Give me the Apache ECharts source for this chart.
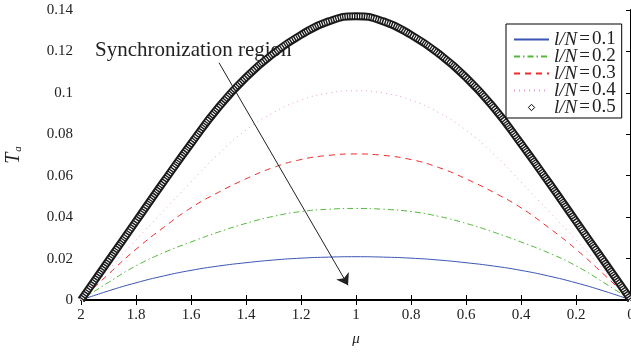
<!DOCTYPE html>
<html><head><meta charset="utf-8">
<script src="https://cdn.jsdelivr.net/npm/echarts@6/dist/echarts.min.js"></script>
<style>html,body{margin:0;padding:0;background:#fff}#c{width:631px;height:352px}</style>
</head><body><div id="c"></div>
<script>
// mu values (x axis, drawn reversed: 2 on the left, 0 on the right)
const mu = [0, 0.1, 0.2, 0.3, 0.4, 0.5, 0.6, 0.7, 0.8, 0.9, 1.0, 1.1, 1.2, 1.3, 1.4, 1.5, 1.6, 1.7, 1.8, 1.9, 2.0];
const ratioLabels = ['0.1', '0.2', '0.3', '0.4', '0.5'];
const Ta_01 = [0, 0.0044, 0.0083, 0.0116, 0.0143, 0.0164, 0.0180, 0.0193, 0.0202, 0.0207, 0.0209, 0.0207, 0.0202, 0.0193, 0.0180, 0.0164, 0.0143, 0.0116, 0.0083, 0.0044, 0];
const Ta_02 = [0, 0.0085, 0.0165, 0.0228, 0.0280, 0.0328, 0.0370, 0.0404, 0.0427, 0.0438, 0.0442, 0.0438, 0.0427, 0.0404, 0.0370, 0.0328, 0.0280, 0.0228, 0.0165, 0.0085, 0];
const Ta_03 = [0, 0.0125, 0.0245, 0.0350, 0.0445, 0.0520, 0.0585, 0.0640, 0.0678, 0.0698, 0.0705, 0.0698, 0.0678, 0.0640, 0.0585, 0.0520, 0.0445, 0.0350, 0.0245, 0.0125, 0];
const Ta_04 = [0, 0.0145, 0.0290, 0.0430, 0.0570, 0.0705, 0.0820, 0.0905, 0.0965, 0.0999, 0.1010, 0.0999, 0.0965, 0.0905, 0.0820, 0.0705, 0.0570, 0.0430, 0.0290, 0.0145, 0];
const Ta_05 = [0, 0.0190, 0.0380, 0.0570, 0.0755, 0.0930, 0.1075, 0.1190, 0.1280, 0.1345, 0.1370, 0.1345, 0.1280, 0.1190, 0.1075, 0.0930, 0.0755, 0.0570, 0.0380, 0.0190, 0];
const xTicks = { min: 0, max: 2, interval: 0.2 };
const yTicks = { min: 0, max: 0.14, interval: 0.02 };
// annotation arrow (data coordinates)
const arrowFrom = [1.498, 0.1145];
const arrowTo = [1.029, 0.0071];
const annotationText = 'Synchronization region';

const FONT = '"Liberation Serif", "Times New Roman", serif';
const pairs = arr => mu.map((m, i) => [m, arr[i]]);
const names = ratioLabels.map(r => 'l/N=' + r);
const hiddenSymbol = { color: 'rgba(0,0,0,0)', borderWidth: 0, opacity: 0 };

const chart = echarts.init(document.getElementById('c'), null, { renderer: 'canvas' });
const axisCommon = {
  type: 'value', splitLine: { show: false },
  axisTick: { inside: true, length: 5, lineStyle: { color: '#000', width: 1 } },
  axisLabel: { fontFamily: FONT, fontSize: 15, color: '#222', margin: 8 }
};
chart.setOption({
  animation: false,
  backgroundColor: '#fff',
  grid: { left: 81, right: 0, top: 10, bottom: 52, containLabel: false, outerBoundsMode: 'none' },
  xAxis: [
    Object.assign({}, axisCommon, {
      position: 'bottom', inverse: true, min: xTicks.min, max: xTicks.max, interval: xTicks.interval,
      axisLine: { lineStyle: { color: '#000', width: 2 } },
      name: 'μ', nameLocation: 'middle', nameGap: 32,
      nameTextStyle: { fontFamily: FONT, fontStyle: 'italic', fontSize: 15, color: '#222' }
    }),
    Object.assign({}, axisCommon, {
      position: 'top', inverse: true, min: xTicks.min, max: xTicks.max, interval: xTicks.interval,
      axisLine: { lineStyle: { color: '#000', width: 1.5 } },
      axisLabel: { show: false }
    })
  ],
  yAxis: [
    Object.assign({}, axisCommon, {
      position: 'left', min: yTicks.min, max: yTicks.max, interval: yTicks.interval,
      axisLine: { lineStyle: { color: '#000', width: 2 } },
      name: '{t|T}{s|a}', nameLocation: 'middle', nameGap: 57, nameRotate: 90,
      nameTextStyle: {
        rich: {
          t: { fontFamily: FONT, fontStyle: 'italic', fontSize: 20, color: '#222' },
          s: { fontFamily: FONT, fontStyle: 'italic', fontSize: 11, color: '#222', padding: [8, 0, 0, 1] }
        }
      }
    }),
    Object.assign({}, axisCommon, {
      position: 'right', min: yTicks.min, max: yTicks.max, interval: yTicks.interval,
      axisLine: { lineStyle: { color: '#000', width: 1.5 } },
      axisLabel: { show: false }
    })
  ],
  legend: {
    orient: 'vertical', left: 506, top: 24,
    backgroundColor: '#fff', borderColor: '#000', borderWidth: 1,
    padding: [6, 6, 1, 7], itemGap: -2, itemWidth: 35, itemHeight: 8,
    data: [
      { name: names[0], itemStyle: hiddenSymbol },
      { name: names[1], itemStyle: hiddenSymbol },
      { name: names[2], itemStyle: hiddenSymbol },
      { name: names[3], itemStyle: hiddenSymbol },
      { name: names[4], lineStyle: { opacity: 0, width: 0 }, itemStyle: { color: '#fff', borderColor: '#000', borderWidth: 1 } }
    ],
    formatter: n => '{i|l/N}{e|=}{n|' + n.slice(4) + '}',
    textStyle: {
      rich: {
        i: { fontFamily: FONT, fontStyle: 'italic', fontSize: 19, color: '#222', lineHeight: 17 },
        e: { fontFamily: FONT, fontSize: 19, color: '#222', lineHeight: 17, padding: [0, 2, 0, 2] },
        n: { fontFamily: FONT, fontSize: 19, color: '#222', lineHeight: 17 }
      }
    }
  },
  graphic: [{
    type: 'text', left: 95, top: 40, silent: true,
    style: { text: annotationText, font: '21px ' + FONT, fill: '#222' }
  }],
  series: [
    {
      name: names[0], type: 'line', smooth: true, symbol: 'none', data: pairs(Ta_01),
      lineStyle: { color: '#3a55b4', width: 1 }, itemStyle: { color: '#3a55b4' },
      markLine: {
        silent: true, symbol: ['none', 'arrow'], symbolSize: 11, animation: false,
        lineStyle: { color: '#222', type: 'solid', width: 1 }, label: { show: false },
        data: [[{ coord: arrowFrom }, { coord: arrowTo }]]
      }
    },
    {
      name: names[1], type: 'line', smooth: true, symbol: 'none', data: pairs(Ta_02),
      lineStyle: { color: '#55b83c', width: 1, type: [6, 3, 1.5, 3] }, itemStyle: { color: '#55b83c' }
    },
    {
      name: names[2], type: 'line', smooth: true, symbol: 'none', data: pairs(Ta_03),
      lineStyle: { color: '#f02a2a', width: 1, type: [6, 5] }, itemStyle: { color: '#f02a2a' }
    },
    {
      name: names[3], type: 'line', smooth: true, symbol: 'none', data: pairs(Ta_04),
      lineStyle: { color: '#e39ad6', width: 1, type: [1, 4] }, itemStyle: { color: '#e39ad6' }
    },
    {
      name: names[4], type: 'line', smooth: true, symbol: 'diamond', showSymbol: false, data: pairs(Ta_05),
      lineStyle: { color: '#1a1a1a', width: 8 }, itemStyle: { color: '#fff', borderColor: '#000', borderWidth: 1 }
    },
    {
      name: 'band-inner', type: 'line', smooth: true, symbol: 'none', data: pairs(Ta_05), silent: true,
      lineStyle: { color: '#fff', width: 4, type: [1, 1.4] }
    }
  ]
});
</script>
</body></html>
